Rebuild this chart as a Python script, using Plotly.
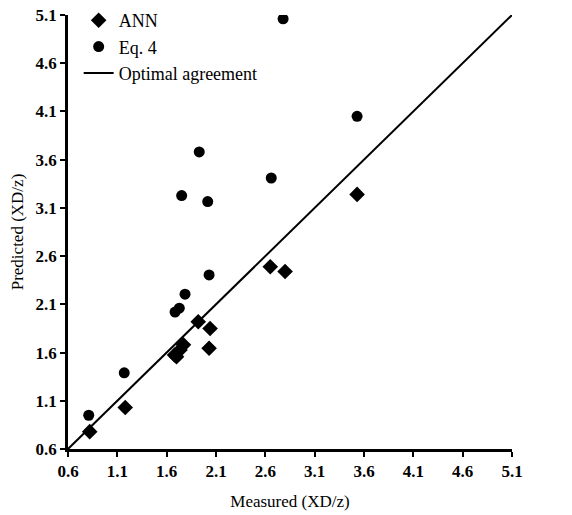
import plotly.graph_objects as go

ann_measured = [0.82, 1.18, 1.68, 1.70, 1.735, 1.77, 1.92, 2.04, 2.03, 2.65, 2.80, 3.53]
ann_predicted = [0.78, 1.03, 1.575, 1.557, 1.627, 1.68, 1.92, 1.85, 1.645, 2.49, 2.44, 3.24]

eq4_measured = [0.81, 1.17, 1.685, 1.728, 1.786, 2.03, 1.752, 2.016, 2.66, 1.93, 2.78, 3.53]
eq4_predicted = [0.95, 1.39, 2.02, 2.06, 2.205, 2.405, 3.228, 3.165, 3.41, 3.68, 5.06, 4.05]

line_x = [0.6, 5.1]
line_y = [0.6, 5.1]

tick_vals = [0.6, 1.1, 1.6, 2.1, 2.6, 3.1, 3.6, 4.1, 4.6, 5.1]
tick_text = ["0.6", "1.1", "1.6", "2.1", "2.6", "3.1", "3.6", "4.1", "4.6", "5.1"]

font_family = "Liberation Serif"

fig = go.Figure()
fig.add_trace(go.Scatter(x=ann_measured, y=ann_predicted, mode="markers", name="ANN",
                         marker=dict(symbol="diamond", size=12, color="black")))
fig.add_trace(go.Scatter(x=eq4_measured, y=eq4_predicted, mode="markers", name="Eq. 4",
                         marker=dict(symbol="circle", size=11, color="black")))
fig.add_trace(go.Scatter(x=line_x, y=line_y, mode="lines", name="Optimal agreement",
                         line=dict(color="black", width=2)))

axis_common = dict(
    range=[0.6, 5.1], tickvals=tick_vals, ticktext=["<b>" + t + "</b>" for t in tick_text],
    showgrid=False, zeroline=False, showline=True, linecolor="black", linewidth=2.5,
    ticks="outside", ticklen=5, tickwidth=2, tickcolor="black",
    tickfont=dict(family=font_family, size=17, color="black"),
)

fig.update_layout(
    width=572, height=515,
    margin=dict(l=68, r=60, t=15, b=66, autoexpand=False),
    paper_bgcolor="white", plot_bgcolor="white",
    font=dict(family=font_family, size=17, color="black"),
    xaxis=dict(title=dict(text="Measured (XD/z)", font=dict(family=font_family, size=17), standoff=15), **axis_common),
    yaxis=dict(title=dict(text="Predicted (XD/z)", font=dict(family=font_family, size=17), standoff=8), **axis_common),
    legend=dict(x=0.024, y=1.03, xanchor="left", yanchor="top", bgcolor="rgba(0,0,0,0)",
                font=dict(family=font_family, size=18, color="black"), tracegroupgap=0,
                itemwidth=30),
    showlegend=True,
)

fig.write_html("out.html")
